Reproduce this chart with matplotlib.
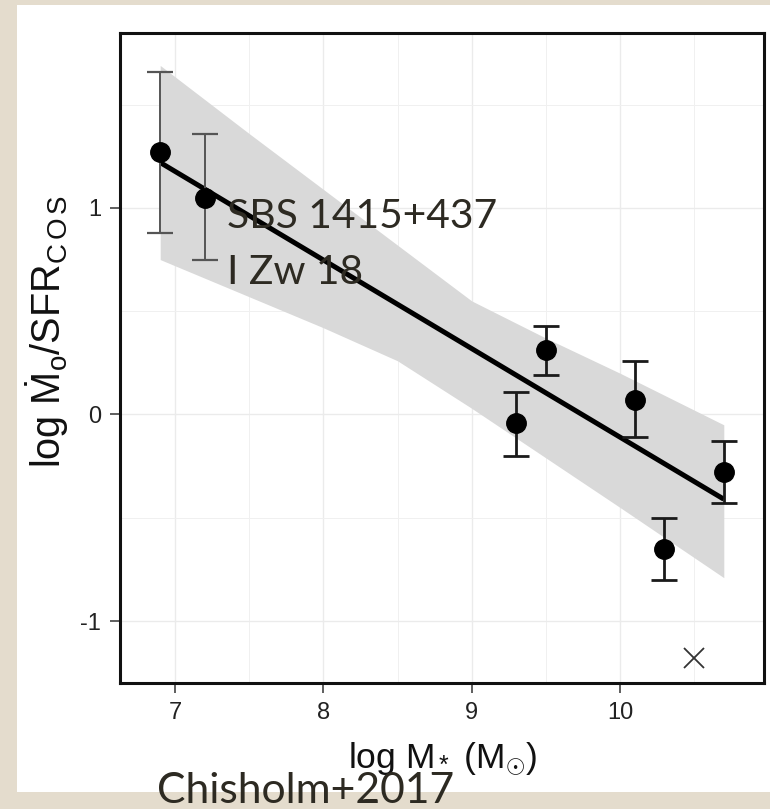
import numpy as np
import matplotlib
matplotlib.use('Agg')
import matplotlib.pyplot as plt
from matplotlib.patches import Rectangle

# outflow rate / SFR against stellar mass
log_mass = [6.9, 7.2, 9.3, 9.5, 10.1, 10.3, 10.7]
log_ratio = [1.27, 1.05, -0.04, 0.31, 0.07, -0.65, -0.28]
err_up = [0.39, 0.31, 0.15, 0.12, 0.19, 0.15, 0.15]
err_down = [0.39, 0.30, 0.16, 0.12, 0.18, 0.15, 0.15]

# upper-limit style cross
cross_x = [10.5]
cross_y = [-1.18]

# linear fit and its confidence band
fit_x = [6.9, 10.7]
fit_y = [1.22, -0.41]
band_x = [6.9, 7.5, 8.0, 8.5, 9.0, 9.5, 10.0, 10.7]
band_lo = [0.75, 0.57, 0.42, 0.26, 0.03, -0.21, -0.45, -0.79]
band_hi = [1.69, 1.36, 1.09, 0.82, 0.55, 0.37, 0.20, -0.05]

x_ticks = [7, 8, 9, 10]
y_ticks = [-1, 0, 1]
labels = ['SBS 1415+437', 'I Zw 18']
source = 'Chisholm+2017'

plt.rcParams['font.family'] = ['Liberation Sans', 'DejaVu Sans']
plt.rcParams['mathtext.fontset'] = 'custom'
plt.rcParams['mathtext.rm'] = 'Liberation Sans'
plt.rcParams['mathtext.it'] = 'Liberation Sans:italic'

W, H = 770, 809
fig = plt.figure(figsize=(W / 100, H / 100), dpi=100)
fig.patch.set_facecolor('#e4dccd')
fig.patches.append(Rectangle((17 / W, 1 - 792 / H), (W - 17) / W, (792 - 5) / H,
                             transform=fig.transFigure, facecolor='white',
                             edgecolor='none', zorder=-10))

ax = fig.add_axes([120 / W, 1 - 683 / H, 644 / W, 650 / H])
ax.set_facecolor('white')

ax.set_xticks(x_ticks)
ax.set_yticks(y_ticks)
ax.set_xticks([t + 0.5 for t in x_ticks], minor=True)
ax.set_yticks([t + 0.5 for t in y_ticks], minor=True)
ax.set_xticklabels([str(t) for t in x_ticks])
ax.set_yticklabels([str(t) for t in y_ticks])
ax.set_xlim(6.629, 10.971)
ax.set_ylim(-1.30, 1.847)
ax.grid(which='major', color='#ebebeb', lw=1.0, zorder=0)
ax.grid(which='minor', color='#f0f0f0', lw=0.7, zorder=0)
ax.set_axisbelow(True)

ax.tick_params(which='major', length=7.5, width=1.1, color='#333333',
               labelsize=17, labelcolor='#222222', pad=6)
ax.tick_params(which='minor', length=0)
for s in ax.spines.values():
    s.set_linewidth(2.2)
    s.set_color('#111111')
    s.set_zorder(6)

ax.fill_between(band_x, band_lo, band_hi, color='#d9d9d9', lw=0, zorder=1)
ax.plot(fit_x, fit_y, color='black', lw=3.6, solid_capstyle='butt', zorder=3)

# the two low-mass galaxies have lighter bars
ax.errorbar(log_mass[:2], log_ratio[:2], yerr=[err_down[:2], err_up[:2]],
            fmt='none', ecolor='#555555', elinewidth=1.4, capsize=9.5,
            capthick=1.6, zorder=4)
ax.errorbar(log_mass[2:], log_ratio[2:], yerr=[err_down[2:], err_up[2:]],
            fmt='none', ecolor='#1a1a1a', elinewidth=2.0, capsize=9.5,
            capthick=2.0, zorder=4)
ax.plot(log_mass, log_ratio, 'o', color='black', ms=14, zorder=5)
ax.plot(cross_x, cross_y, 'x', color='#333333', ms=14, mew=1.3, zorder=5)

fig.text(442 / W, 1 - 768 / H, r'log M$_*$ (M$_{\odot}$)', ha='center',
         va='baseline', fontsize=25.5, color='#111111')
fig.text(47 / W, 1 - 332 / H,
         r'log $\dot{\mathrm{M}}_\mathrm{o}$/SFR$_\mathrm{C\,O\,S}$',
         rotation=90, ha='center', va='center', fontsize=28.5, color='#111111')

slide_font = ['Lato', 'DejaVu Sans']
fig.text(227 / W, 1 - 228 / H, labels[0], family=slide_font, fontsize=29.3,
         color='#2d2a22', va='baseline', zorder=10)
fig.text(227 / W, 1 - 284 / H, labels[1], family=slide_font, fontsize=29.3,
         color='#2d2a22', va='baseline', zorder=10)
fig.text(157 / W, 1 - 803 / H, source, family=slide_font, fontsize=30.7,
         color='#2d2a22', va='baseline', zorder=10)

fig.savefig('out.png', dpi=100)
